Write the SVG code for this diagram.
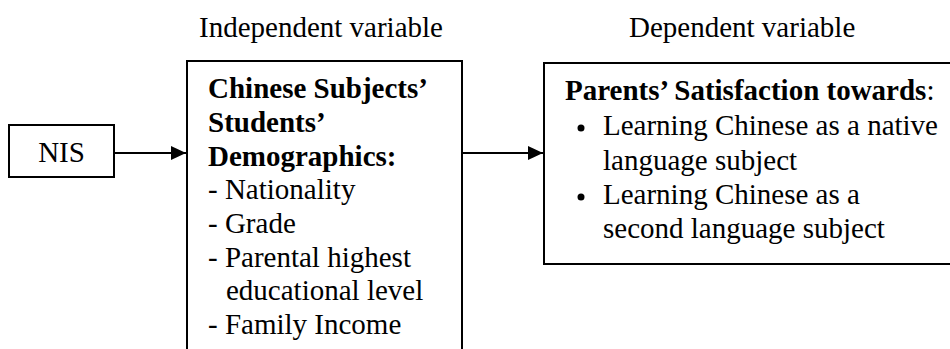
<svg xmlns="http://www.w3.org/2000/svg" width="950" height="349" viewBox="0 0 950 349">
<style>
.t{font-family:"Liberation Serif","Times New Roman",serif;fill:#000;font-size:29px}
.bold{font-weight:bold}
.box{fill:#fff;stroke:#000;stroke-width:2}
.ln{stroke:#000;stroke-width:2;fill:none}
</style>
<defs>
<marker id="arr" markerWidth="15" markerHeight="14" refX="15" refY="7" orient="auto" markerUnits="userSpaceOnUse">
<path d="M0,0 L15,7 L0,14 Z" fill="#000"/>
</marker>
</defs>
<rect width="950" height="349" fill="#fff"/>
<text class="t" x="199" y="37">Independent variable</text>
<text class="t" x="629" y="37">Dependent variable</text>
<g id="nis">
<rect class="box" x="9" y="125" width="105" height="52"/>
<text class="t" x="61.5" y="162" text-anchor="middle">NIS</text>
</g>
<g id="demographics">
<rect class="box" x="187" y="61" width="275" height="300"/>
<text class="t bold" x="208" y="98">Chinese Subjects’</text>
<text class="t bold" x="208" y="132">Students’</text>
<text class="t bold" x="208" y="166">Demographics:</text>
<text class="t" x="208" y="199">- Nationality</text>
<text class="t" x="208" y="233">- Grade</text>
<text class="t" x="208" y="267">- Parental highest</text>
<text class="t" x="226" y="300">educational level</text>
<text class="t" x="208" y="334">- Family Income</text>
</g>
<g id="satisfaction">
<rect class="box" x="544" y="63" width="420" height="201"/>
<text class="t" x="565" y="100"><tspan class="bold">Parents’ Satisfaction towards</tspan>:</text>
<circle cx="581" cy="128" r="3.5" fill="#000"/>
<text class="t" x="603" y="135">Learning Chinese as a native</text>
<text class="t" x="603" y="170">language subject</text>
<circle cx="581" cy="197" r="3.5" fill="#000"/>
<text class="t" x="603" y="204">Learning Chinese as a</text>
<text class="t" x="603" y="238">second language subject</text>
</g>
<g id="connectors">
<line class="ln" x1="114" y1="153" x2="186" y2="153" marker-end="url(#arr)"/>
<line class="ln" x1="462" y1="153" x2="543" y2="153" marker-end="url(#arr)"/>
</g>
</svg>
